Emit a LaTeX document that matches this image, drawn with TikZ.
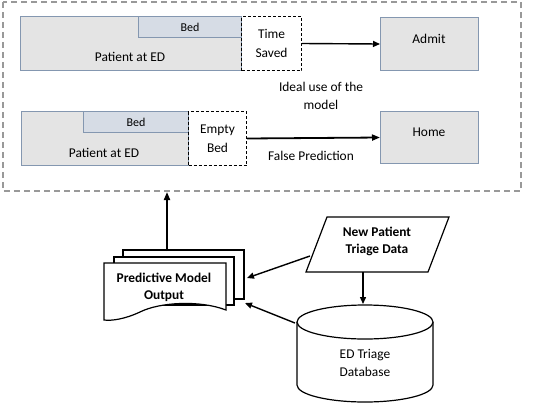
\documentclass[tikz,border=0pt]{standalone}
\usepackage{fontspec}
\setmainfont{Carlito}
\usepackage{tikz}
\usetikzlibrary{arrows.meta}
\definecolor{boxgray}{HTML}{E4E4E4}
\definecolor{bedblue}{HTML}{D6DCE5}
\definecolor{edgeblue}{HTML}{8497B0}

\begin{document}
\begin{tikzpicture}[
  x=1pt,y=-1pt,
  font=\fontsize{13.4}{18.5}\selectfont,
  greybox/.style={draw=edgeblue,fill=boxgray,line width=1pt,anchor=north west,inner sep=0pt},
  bedbox/.style={draw=edgeblue,fill=bedblue,line width=1pt,anchor=north west,inner sep=0pt,font=\fontsize{12}{14}\selectfont},
  gapbox/.style={draw,dashed,dash pattern=on 3pt off 2pt,line width=1pt,anchor=north west,inner sep=0pt,align=center},
  ]
  \tikzset{%
    flow/.style={-{Triangle[length=8pt,width=6pt]},line width=1.8pt},
    thinflow/.style={-{Triangle[length=7pt,width=6pt]},line width=1.4pt},
    sheet/.style={draw,fill=white,line width=1.2pt},
  }
  \useasboundingbox (0,0) rectangle (533,405);
  %Frame
  \draw[gray!80,line width=1.6pt,dash pattern=on 6pt off 4pt] (3,2) rectangle (521,191);
  \coordinate (framebottom) at (167,192);
  %Nodes
  \node[greybox,minimum width=221pt,minimum height=54pt](pat1) at (20,16){};
  \node[bedbox,minimum width=103pt,minimum height=21pt](bed1) at (138,16){Bed};
  \node[gapbox,minimum width=60pt,minimum height=54pt](saved) at (241,16){Time\\Saved};
  \node(patlab1) at (130,57){Patient at ED};
  \node[greybox,minimum width=98pt,minimum height=53pt](admit) at (380,17){};
  \node(admitlab) at (429,39){Admit};

  \node[greybox,minimum width=167pt,minimum height=54pt](pat2) at (21,111){};
  \node[bedbox,minimum width=105pt,minimum height=21pt](bed2) at (83,111){Bed};
  \node[gapbox,minimum width=58pt,minimum height=54pt](empty) at (188,111){Empty\\Bed};
  \node(patlab2) at (104,153){Patient at ED};
  \node[greybox,minimum width=98pt,minimum height=52pt](home) at (380,111){};
  \node(homelab) at (429,132){Home};

  \node[align=center](ideal) at (321,96){Ideal use of the\\model};
  \node(false) at (311,156){False Prediction};

  % document stack
  \draw[sheet] (123,250) rectangle (244,299);
  \draw[sheet] (114,257) rectangle (234,305);
  \draw[sheet] (104,263) -- (226,263) -- (226,310)
    .. controls (200,300) and (160,302) .. (140,312)
    .. controls (125,319) and (112,321) .. (104,320) -- cycle;
  \node[font=\bfseries\fontsize{13.4}{17}\selectfont,align=center](model) at (164,287){Predictive Model\\Output};
  \coordinate (stacktop) at (167,251);
  \coordinate (stackin1) at (247,278);
  \coordinate (stackin2) at (245,303);

  % triage data
  \draw[sheet] (327,217) -- (449,217) -- (428,272) -- (306,272) -- cycle;
  \node[font=\bfseries\fontsize{13.4}{17}\selectfont,align=center](triage) at (377,241){New Patient\\Triage Data};
  \coordinate (triageout1) at (310,256);
  \coordinate (triageout2) at (363,272);

  % database
  \draw[sheet] (297,322) -- (297,385) arc[start angle=180,end angle=360,x radius=68pt,y radius=17pt] -- (433,322);
  \draw[sheet] (365,322) ellipse[x radius=68pt,y radius=17pt];
  \node[align=center](db) at (365,363){ED Triage\\Database};
  \coordinate (dbtop) at (363,304);
  \coordinate (dbout) at (295,323);

  %Lines
  \draw[thinflow] (saved.east) -- (admit.west);
  \draw[flow] (empty.east) -- (home.west);
  \draw[flow] (stacktop) -- (framebottom);
  \draw[thinflow] (triageout1) -- (stackin1);
  \draw[thinflow] (triageout2) -- (dbtop);
  \draw[thinflow] (dbout) -- (stackin2);
\end{tikzpicture}
\end{document}
